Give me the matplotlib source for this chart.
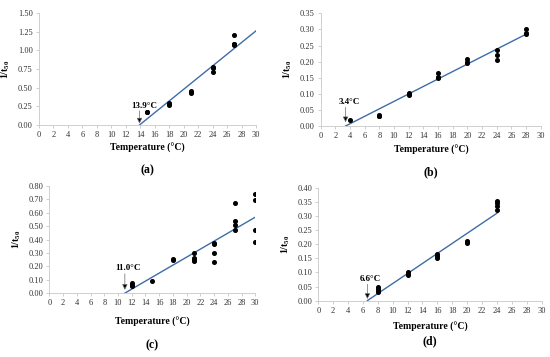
import matplotlib
matplotlib.use('Agg')
import matplotlib.pyplot as plt
import numpy as np

plt.rcParams['font.family'] = ['Liberation Serif', 'DejaVu Serif']
plt.rcParams['mathtext.fontset'] = 'custom'
plt.rcParams['mathtext.rm'] = 'Liberation Serif'
plt.rcParams['mathtext.bf'] = 'Liberation Serif:bold'
plt.rcParams['mathtext.default'] = 'bf'

# (a)
a_x = [15, 15, 18, 18, 18, 21, 21, 21, 24, 24, 24, 27, 27, 27, 27]
a_y = [0.18, 0.17, 0.29, 0.28, 0.27, 0.46, 0.44, 0.43, 0.77, 0.76, 0.71, 1.21, 1.09, 1.08, 1.07]
a_line_x = [13.9, 30]
a_line_y = [0.0, 1.26]

# (b)
b_x = [4, 8, 8, 8, 12, 12, 12, 16, 16, 16, 20, 20, 20, 24, 24, 24, 28, 28, 28]
b_y = [0.018, 0.035, 0.032, 0.030, 0.103, 0.098, 0.095, 0.165, 0.152, 0.150,
       0.208, 0.200, 0.196, 0.236, 0.220, 0.205, 0.300, 0.290, 0.287]
b_line_x = [3.4, 28]
b_line_y = [0.0, 0.285]

# (c)
c_x = [12, 12, 12, 15, 18, 18, 21, 21, 21, 21, 24, 24, 24, 24, 27, 27, 27, 27, 30, 30, 30, 30]
c_y = [0.075, 0.062, 0.052, 0.087, 0.252, 0.245, 0.302, 0.259, 0.250, 0.242,
       0.372, 0.365, 0.302, 0.234, 0.673, 0.536, 0.509, 0.471, 0.738, 0.693, 0.471, 0.381]
c_line_x = [11.0, 30]
c_line_y = [0.0, 0.568]

# (d)
d_x = [8, 8, 8, 8, 12, 12, 12, 16, 16, 16, 20, 20, 20, 24, 24, 24, 24]
d_y = [0.048, 0.040, 0.035, 0.030, 0.100, 0.095, 0.092, 0.165, 0.158, 0.152,
       0.213, 0.208, 0.205, 0.352, 0.345, 0.335, 0.322]
d_line_x = [6.6, 24]
d_line_y = [0.0, 0.31]

H = 357.0
panels = [
    dict(x=a_x, y=a_y, lx=a_line_x, ly=a_line_y, ymax=1.5, ystep=0.25,
         lab='13.9°C', tx=14.6, ty=0.205, ay0=0.19, ay1=0.02, tag='(a)',
         pos=[0.0709, 0.650, 0.3945, 0.3137], xl_px=148, tag_px=170, cx=147),
    dict(x=b_x, y=b_y, lx=b_line_x, ly=b_line_y, ymax=0.35, ystep=0.05,
         lab='3.4°C', tx=3.9, ty=0.062, ay0=0.058, ay1=0.012, tag='(b)',
         pos=[0.583, 0.647, 0.400, 0.3157], xl_px=150, tag_px=172, cx=431),
    dict(x=c_x, y=c_y, lx=c_line_x, ly=c_line_y, ymax=0.8, ystep=0.10,
         lab='11.0°C', tx=11.4, ty=0.155, ay0=0.145, ay1=0.025, tag='(c)',
         pos=[0.0897, 0.179, 0.3745, 0.2997], xl_px=322, tag_px=345, cx=152),
    dict(x=d_x, y=d_y, lx=d_line_x, ly=d_line_y, ymax=0.4, ystep=0.05,
         lab='6.6°C', tx=7.0, ty=0.062, ay0=0.058, ay1=0.006, tag='(d)',
         pos=[0.5787, 0.158, 0.406, 0.3157], xl_px=327, tag_px=341, cx=430),
]

fig = plt.figure(figsize=(5.5, 3.57), dpi=100)

for p in panels:
    ax = fig.add_axes(p['pos'])
    ax.plot(p['x'], p['y'], 'o', color='black', ms=2.6, zorder=3)
    ax.plot(p['lx'], p['ly'], color='#3f6ca8', lw=1.0, zorder=2)
    ax.set_xlim(0, 30)
    ax.set_ylim(0, p['ymax'])
    ax.set_xticks(np.arange(0, 31, 2))
    yt = np.arange(0, p['ymax'] + 1e-9, p['ystep'])
    ax.set_yticks(yt)
    ax.set_yticklabels([f'{v:.2f}' for v in yt])
    for s in ['top', 'right']:
        ax.spines[s].set_visible(False)
    for s in ['left', 'bottom']:
        ax.spines[s].set_color('#c8c8c8')
        ax.spines[s].set_linewidth(0.6)
    ax.tick_params(labelsize=6, colors='#c8c8c8', labelcolor='#333333',
                   length=2.5, width=0.6, pad=2)
    ax.annotate('', xy=(p['lx'][0], p['ay1']), xytext=(p['lx'][0], p['ay0']),
                arrowprops=dict(arrowstyle='-|>', fc='black', ec='#666666',
                                lw=0.5, mutation_scale=8, shrinkA=0, shrinkB=0))
    ax.text(p['tx'], p['ty'], p['lab'], ha='center', va='bottom',
            fontsize=6.5, fontweight='bold')
    fig.text(p['cx'] / 550, 1 - p['xl_px'] / H, 'Temperature (°C)',
             ha='center', va='center', fontsize=7, fontweight='bold')
    fig.text(p['cx'] / 550, 1 - p['tag_px'] / H, p['tag'],
             ha='center', va='center', fontsize=8.5, fontweight='bold')
    ax.set_ylabel('1/t$_{50}$', fontsize=7, fontweight='bold', labelpad=4)

fig.savefig('out.png', dpi=100)
